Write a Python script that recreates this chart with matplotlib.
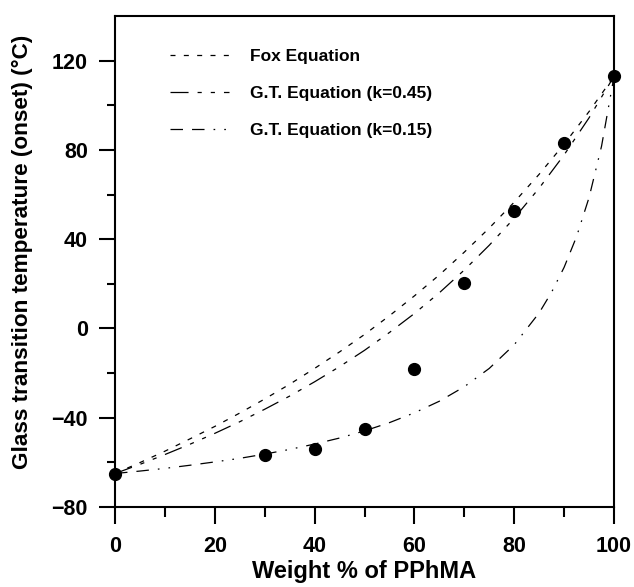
import matplotlib
matplotlib.use("Agg")
import matplotlib.pyplot as plt
from matplotlib.ticker import FixedLocator

plt.rcParams['font.family'] = ['Liberation Sans', 'DejaVu Sans']
plt.rcParams['font.weight'] = 'bold'
plt.rcParams['lines.scale_dashes'] = False

# Measured data (points)
exp_w = [0, 30, 40, 50, 60, 70, 80, 90, 100]
exp_tg = [-65, -56.5, -54, -45, -18, 20.5, 52.5, 83, 113]

# Fox equation curve
fox_w = [0, 5, 10, 15, 20, 25, 30, 35, 40, 45, 50, 55, 60, 65, 70, 75, 80, 85, 90, 95, 100]
fox_tg = [-65, -60.1, -55.0, -49.5, -43.9, -37.9, -31.6, -25.0, -17.9, -10.5, -2.7,
          5.7, 14.6, 24.0, 34.2, 45.0, 56.6, 69.1, 82.6, 97.2, 113]

# G.T. equation k=0.45
gt45_w = [0, 5, 10, 15, 20, 25, 30, 35, 40, 45, 50, 55, 60, 65, 70, 75, 80, 85, 90, 95, 100]
gt45_tg = [-65, -60.9, -56.5, -51.9, -47.0, -41.8, -36.2, -30.3, -23.9, -17.1, -9.8,
           -1.8, 6.7, 16.0, 26.2, 37.3, 49.4, 62.9, 77.8, 94.4, 113]

# G.T. equation k=0.15
gt15_w = [0, 5, 10, 15, 20, 25, 30, 35, 40, 45, 50, 55, 60, 65, 70, 75, 80, 85, 87.5,
          90, 92.5, 95, 97.5, 100]
gt15_tg = [-65, -63.9, -62.7, -61.3, -59.8, -58.2, -56.3, -54.2, -51.8, -49.1, -45.9,
           -42.2, -37.8, -32.6, -26.1, -17.9, -7.3, 7.0, 16.3, 27.4, 41.2, 58.7, 81.7, 113]

labels = ['Fox Equation', 'G.T. Equation (k=0.45)', 'G.T. Equation (k=0.15)']
x_ticks = [0, 20, 40, 60, 80, 100]
y_ticks = [-80, -40, 0, 40, 80, 120]

fig = plt.figure(figsize=(6.34, 5.87), dpi=100)
ax = fig.add_axes([0.1814, 0.1363, 0.7871, 0.8364])

lw = 0.9
ax.plot(fox_w, fox_tg, color='black', lw=lw, linestyle=(0, (3.6, 6.0)), label=labels[0])
ax.plot(gt45_w, gt45_tg, color='black', lw=lw,
        linestyle=(0, (13, 6.5, 3, 6.5, 3, 6.5)), label=labels[1])
ax.plot(gt15_w, gt15_tg, color='black', lw=lw,
        linestyle=(0, (9, 6.5, 9, 6.5, 1.2, 6.5, 1.2, 6.5)), label=labels[2])
ax.plot(exp_w, exp_tg, 'o', color='black', ms=8.5, zorder=5, clip_on=False)

ax.set_xlim(0, 100)
ax.set_ylim(-80, 140)
ax.xaxis.set_major_locator(FixedLocator(x_ticks))
ax.xaxis.set_minor_locator(FixedLocator([10, 30, 50, 70, 90]))
ax.yaxis.set_major_locator(FixedLocator(y_ticks))
ax.yaxis.set_minor_locator(FixedLocator([-60, -20, 20, 60, 100]))

for s in ax.spines.values():
    s.set_linewidth(1.5)
ax.tick_params(which='major', direction='out', length=12, width=1.5, labelsize=15.5, pad=9)
ax.tick_params(which='minor', direction='out', length=7, width=1.5)
ax.tick_params(axis='y', which='major', length=11.5, pad=8)
ax.tick_params(axis='y', which='minor', length=6)

ax.set_xlabel('Weight % of PPhMA', fontsize=17, fontweight='bold', labelpad=2)
ax.set_ylabel('Glass transition temperature (onset) (°C)', fontsize=16.2,
              fontweight='bold')
ax.yaxis.set_label_coords(-0.164, 0.52)

leg = ax.legend(loc='upper left', bbox_to_anchor=(0.085, 0.958), frameon=False,
                fontsize=12.5, handlelength=3.45, handletextpad=1.2, labelspacing=1.25,
                borderpad=0.2)

fig.savefig('out.png', dpi=100)
